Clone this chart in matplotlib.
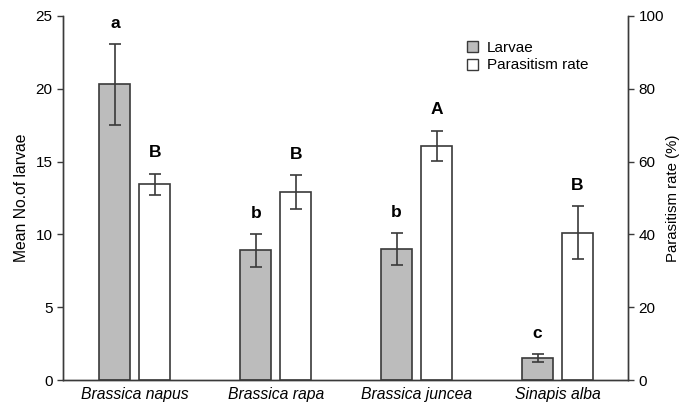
import matplotlib
matplotlib.use("Agg")
import matplotlib.pyplot as plt
import numpy as np
from matplotlib.patches import Patch

plt.rcParams['font.family'] = ['Liberation Sans', 'DejaVu Sans']

species = ["Brassica napus", "Brassica rapa", "Brassica juncea", "Sinapis alba"]
larvae = [20.3, 8.9, 9.0, 1.5]
larvae_err = [2.8, 1.15, 1.1, 0.27]
larvae_letters = ["a", "b", "b", "c"]
parasitism = [53.8, 51.6, 64.4, 40.5]
parasitism_err = [2.9, 4.6, 4.1, 7.3]
parasitism_letters = ["B", "B", "A", "B"]

edge = "#3a3a3a"
fig = plt.figure(figsize=(6.8, 4.05), dpi=100)
ax = fig.add_axes([0.0926, 0.0617, 0.8309, 0.8988])
ax2 = ax.twinx()

x = np.arange(len(species))
w = 0.22
off = 0.142

ax.bar(x - off, larvae, w, color="#bcbcbc", edgecolor=edge, linewidth=1.2, zorder=2)
ax.errorbar(x - off, larvae, yerr=larvae_err, fmt="none", ecolor=edge, elinewidth=1.2,
            capsize=4.5, capthick=1.2, zorder=3)
ax2.bar(x + off, parasitism, w, color="white", edgecolor=edge, linewidth=1.2, zorder=2)
ax2.errorbar(x + off, parasitism, yerr=parasitism_err, fmt="none", ecolor=edge, elinewidth=1.2,
             capsize=4.5, capthick=1.2, zorder=3)

for xi, v, e, t in zip(x, larvae, larvae_err, larvae_letters):
    ax.text(xi - off, v + e + 0.9, t, ha="center", va="bottom", fontsize=12.5, fontweight="bold")
for xi, v, e, t in zip(x, parasitism, parasitism_err, parasitism_letters):
    ax2.text(xi + off, v + e + 3.7, t, ha="center", va="bottom", fontsize=12.5, fontweight="bold")

ax.set_xlim(-0.51, 3.5)
ax.set_ylim(0, 25)
ax2.set_ylim(0, 100)
ax.set_yticks([0, 5, 10, 15, 20, 25])
ax2.set_yticks([0, 20, 40, 60, 80, 100])
ax.set_xticks(x)
ax.set_xticklabels(species, fontstyle="italic", fontsize=11.3)
ax.tick_params(axis="x", length=0, pad=5)
ax.tick_params(axis="y", labelsize=11, length=4, width=1, color=edge)
ax2.tick_params(axis="y", labelsize=11, length=4, width=1, color=edge)
ax.set_ylabel("Mean No.of larvae", fontsize=11.3, labelpad=5)
ax2.set_ylabel("Parasitism rate (%)", fontsize=10.8, labelpad=1.5)

for a in (ax, ax2):
    a.spines["top"].set_visible(False)
    for s in ("left", "right", "bottom"):
        a.spines[s].set_color(edge)
        a.spines[s].set_linewidth(1.0)

handles = [Patch(facecolor="#bcbcbc", edgecolor=edge, label="Larvae"),
           Patch(facecolor="white", edgecolor=edge, label="Parasitism rate")]
ax2.legend(handles=handles, loc="upper left", bbox_to_anchor=(0.69, 0.97), frameon=False,
           fontsize=11, handlelength=0.75, handleheight=0.75, handletextpad=0.6, labelspacing=0.25)

fig.savefig("out.png", dpi=100)
